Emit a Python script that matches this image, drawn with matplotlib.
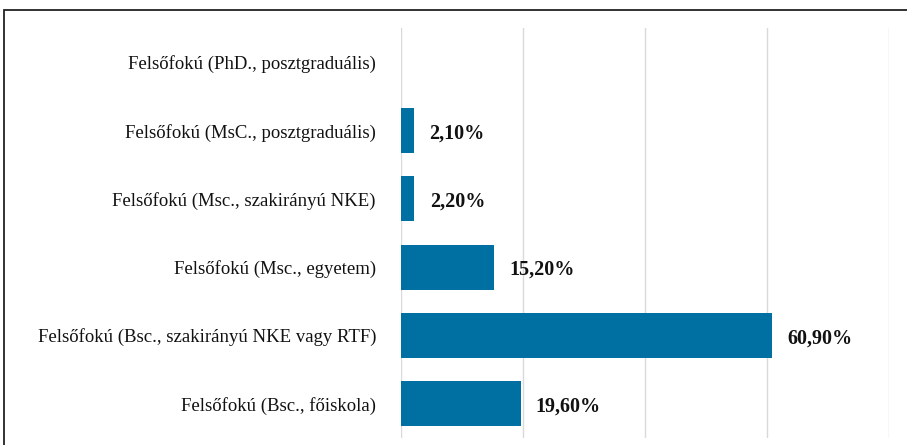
import numpy as np
import matplotlib.pyplot as plt
from matplotlib.patches import Rectangle

plt.rcParams['font.family'] = ['Liberation Serif', 'DejaVu Serif']

# data
categories = ['Felsőfokú (Bsc., főiskola)',
              'Felsőfokú (Bsc., szakirányú NKE vagy RTF)',
              'Felsőfokú (Msc., egyetem)',
              'Felsőfokú (Msc., szakirányú NKE)',
              'Felsőfokú (MsC., posztgraduális)',
              'Felsőfokú (PhD., posztgraduális)']
values = [19.6, 60.9, 15.2, 2.2, 2.1, 0.0]
labels = ['19,60%', '60,90%', '15,20%', '2,20%', '2,10%', '']

fig = plt.figure(figsize=(9.07, 4.45), dpi=100)
ax = fig.add_axes([401/907, 1-438/445, (889-401)/907, (438-28)/445])

y = np.arange(len(categories))
ax.barh(y, values, height=0.66, color='#0070A2', linewidth=0, zorder=3)

for yi, v, lab in zip(y, values, labels):
    if lab:
        ax.annotate(lab, xy=(v, yi), xytext=(11, -2), textcoords='offset points',
                    ha='left', va='center', fontsize=14.5, fontweight='bold', color='#111111')

ax.set_xlim(0, 80)
ax.set_ylim(-0.5, len(categories)-0.5)
ax.set_xticks([0, 20, 40, 60, 80])
ax.set_xticklabels([])
ax.set_yticks(y)
ax.set_yticklabels(categories, fontsize=13.5, color='#111111')
ax.tick_params(axis='both', length=0, pad=18)
ax.grid(axis='x', color='#d9d9d9', linewidth=1, zorder=0)
for s in ax.spines.values():
    s.set_visible(False)

# outer frame (cropped at right/bottom)
fig.patches.append(Rectangle((4/907, -0.1), 1.2, 1.1 - 10/445, transform=fig.transFigure,
                             fill=False, edgecolor='#222222', linewidth=1.3))

fig.savefig('out.png', dpi=100)
